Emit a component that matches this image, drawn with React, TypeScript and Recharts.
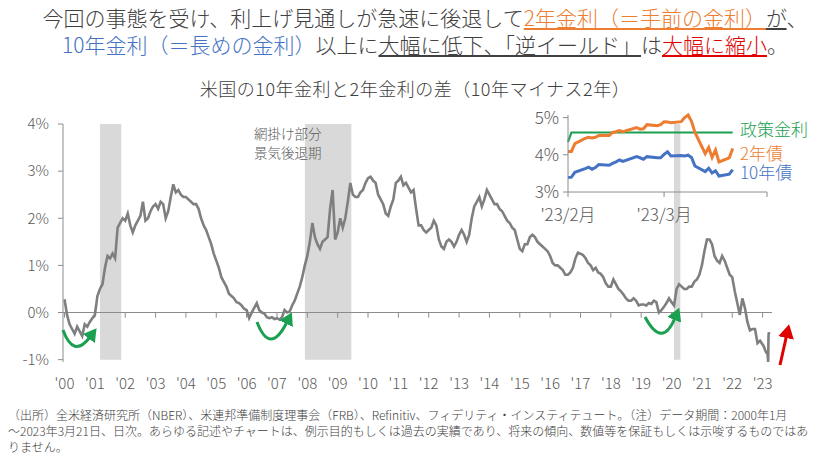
import React from 'react';
import { LineChart, Line, XAxis, YAxis, ReferenceArea, ReferenceLine } from 'recharts';

const FONT = '"Noto Sans CJK JP", "Noto Sans", sans-serif';
const GRAY_TEXT = '#595959';
const AXIS = '#8c8c8c';
const ORANGE = '#ED7D31';
const BLUE = '#4472C4';
const GREEN = '#1AA050';
const RED = '#E00000';

// ---- Main chart: 10Y - 2Y spread (%), monthly readings, Jan 2000 .. Dec 2022
const startYear = 2000;
const spreadMonthly: number[] = [
  0.28, -0.05, -0.25, -0.35, -0.45, -0.3, -0.4, -0.5, -0.25, -0.3, -0.2, -0.12, // 2000
  -0.05, 0.35, 0.5, 0.6, 0.95, 1.2, 1.15, 1.25, 1.15, 1.8, 1.9, 2.0, // 2001
  1.95, 2.1, 1.85, 1.7, 1.85, 1.95, 2.05, 2.35, 1.95, 2.0, 2.15, 2.25, // 2002
  2.3, 2.2, 2.35, 2.3, 2.0, 2.15, 2.45, 2.72, 2.55, 2.6, 2.5, 2.45, // 2003
  2.45, 2.4, 2.35, 2.3, 2.3, 2.2, 2.0, 1.85, 1.75, 1.6, 1.45, 1.25, // 2004
  1.1, 0.95, 0.75, 0.65, 0.55, 0.4, 0.35, 0.3, 0.22, 0.2, 0.15, 0.08, // 2005
  0.05, -0.12, 0.0, 0.1, 0.2, 0.05, 0.0, -0.02, -0.1, -0.12, -0.1, -0.14, // 2006
  -0.12, -0.15, -0.1, 0.05, 0.0, 0.02, 0.15, 0.25, 0.4, 0.55, 0.75, 1.0, // 2007
  1.2, 1.5, 1.9, 1.6, 1.45, 1.35, 1.5, 1.55, 1.6, 2.2, 2.6, 1.55, // 2008
  1.7, 2.0, 1.8, 2.0, 2.35, 2.75, 2.5, 2.45, 2.45, 2.55, 2.6, 2.75, // 2009
  2.85, 2.88, 2.8, 2.75, 2.5, 2.4, 2.3, 2.1, 2.05, 2.25, 2.4, 2.75, // 2010
  2.8, 2.88, 2.7, 2.75, 2.65, 2.55, 2.6, 2.2, 1.85, 1.85, 1.75, 1.7, // 2011
  1.75, 1.8, 1.95, 1.85, 1.55, 1.4, 1.35, 1.5, 1.55, 1.5, 1.4, 1.5, // 2012
  1.65, 1.75, 1.65, 1.5, 1.65, 2.0, 2.25, 2.35, 2.45, 2.25, 2.4, 2.6, // 2013
  2.5, 2.4, 2.3, 2.3, 2.2, 2.15, 2.05, 1.95, 1.9, 1.8, 1.75, 1.55, // 2014
  1.35, 1.3, 1.45, 1.45, 1.6, 1.65, 1.6, 1.5, 1.45, 1.4, 1.35, 1.3, // 2015
  1.2, 1.05, 1.0, 1.0, 0.95, 0.9, 0.8, 0.8, 0.85, 0.95, 1.15, 1.27, // 2016
  1.25, 1.22, 1.15, 1.05, 1.0, 0.9, 0.95, 0.85, 0.82, 0.75, 0.62, 0.55, // 2017
  0.55, 0.7, 0.6, 0.5, 0.45, 0.38, 0.3, 0.25, 0.25, 0.3, 0.25, 0.15, // 2018
  0.17, 0.17, 0.15, 0.2, 0.18, 0.25, 0.22, 0.0, 0.05, 0.12, 0.2, 0.3, // 2019
  0.22, 0.15, 0.5, 0.6, 0.55, 0.5, 0.5, 0.55, 0.55, 0.65, 0.7, 0.8, // 2020
  1.0, 1.3, 1.55, 1.55, 1.45, 1.2, 1.1, 1.05, 1.2, 1.1, 0.95, 0.8, // 2021
  0.75, 0.45, 0.2, -0.05, 0.3, 0.1, -0.2, -0.38, -0.35, -0.35, -0.65, -0.6, // 2022
];
// 2023 readings (year fraction, value)
const tail2023Dates = [2023.0, 2023.04, 2023.085, 2023.12, 2023.164, 2023.184, 2023.195, 2023.205, 2023.216];
const tail2023Values = [-0.68, -0.72, -0.8, -0.85, -0.88, -1.05, -0.5, -0.42, -0.46];

const yearTicks = Array.from({ length: 24 }, (_, i) => 2000 + i);
const yTicks = [-1, 0, 1, 2, 3, 4];
const recessions: [number, number][] = [
  [2001.17, 2001.87],
  [2007.92, 2009.45],
  [2020.08, 2020.29],
];

const mainData = [
  ...spreadMonthly.map((v, i) => ({ x: startYear + i / 12, v })),
  ...tail2023Dates.map((x, i) => ({ x, v: tail2023Values[i] })),
];

// ---- Inset: Feb 1 2023 .. Mar 21 2023 (business days, day offset from Feb 1)
const insetDays = [0, 1, 2, 5, 6, 7, 8, 9, 12, 13, 14, 15, 16, 20, 21, 22, 23, 26, 27,
  28, 29, 30, 33, 34, 35, 36, 37, 40, 41, 42, 43, 44, 47, 48];
const twoYear = [4.09, 4.09, 4.3, 4.44, 4.47, 4.45, 4.47, 4.52, 4.52, 4.6, 4.62, 4.65, 4.62, 4.73, 4.69, 4.7, 4.81, 4.78, 4.81,
  4.89, 4.88, 4.86, 4.89, 5.0, 5.07, 4.9, 4.6, 4.03, 4.2, 3.93, 4.13, 3.81, 3.92, 4.17];
const tenYear = [3.39, 3.4, 3.53, 3.63, 3.67, 3.61, 3.66, 3.74, 3.72, 3.77, 3.81, 3.86, 3.82, 3.95, 3.92, 3.88, 3.95, 3.92, 3.92,
  4.01, 4.08, 3.97, 3.98, 3.97, 3.99, 3.93, 3.7, 3.55, 3.64, 3.51, 3.57, 3.43, 3.48, 3.6];
const policyRate = [4.35, 4.6, 4.6, 4.6, 4.6, 4.6, 4.6, 4.6, 4.6, 4.6, 4.6, 4.6, 4.6, 4.6, 4.6, 4.6, 4.6, 4.6, 4.6,
  4.6, 4.6, 4.6, 4.6, 4.6, 4.6, 4.6, 4.6, 4.6, 4.6, 4.6, 4.6, 4.6, 4.6, 4.6];
const insetTicks = [0, 28, 58];
const insetTickLabels: Record<number, string> = { 0: "'23/2月", 28: "'23/3月", 58: '' };
const insetData = insetDays.map((d, i) => ({ d, two: twoYear[i], ten: tenYear[i], pol: policyRate[i] }));

const mainTick = { fill: GRAY_TEXT, fontSize: 15, fontFamily: FONT, fontWeight: 300 };
const insetTick = { fill: GRAY_TEXT, fontSize: 17, fontFamily: FONT, fontWeight: 300 };

export default function App() {
  return (
    <div style={{ position: 'absolute', left: 0, top: 0, width: 825, height: 464, background: '#fff', fontFamily: FONT, fontWeight: 300, overflow: 'hidden' }}>
      {/* Headline */}
      <div style={{ position: 'absolute', left: 0, top: 4, width: 825, paddingLeft: 25, boxSizing: 'border-box', textAlign: 'center', fontSize: 21, lineHeight: '27px', color: '#404040', whiteSpace: 'nowrap' }}>
        <div>
          <span>今回の事態を受け、利上げ見通しが急速に後退して</span>
          <span style={{ color: ORANGE, textDecoration: 'underline' }}>2年金利（＝手前の金利）</span>
          <span style={{ textDecoration: 'underline' }}>が</span>
          <span>、</span>
        </div>
        <div>
          <span style={{ color: BLUE }}>10年金利（＝長めの金利）</span>
          <span>以上に</span>
          <span style={{ textDecoration: 'underline' }}>大幅に低下、「逆イールド」</span>
          <span>は</span>
          <span style={{ color: RED, textDecoration: 'underline' }}>大幅に縮小</span>
          <span>。</span>
        </div>
      </div>

      {/* Chart title */}
      <div style={{ position: 'absolute', left: 0, top: 77, width: 825, paddingLeft: 5, boxSizing: 'border-box', textAlign: 'center', fontSize: 18, letterSpacing: 0.5, lineHeight: '22px', color: '#404040', whiteSpace: 'nowrap' }}>
        米国の10年金利と2年金利の差（10年マイナス2年）
      </div>

      {/* Main chart */}
      <div style={{ position: 'absolute', left: 0, top: 0 }}>
        <LineChart width={825} height={464} data={mainData} margin={{ top: 124, right: 53, bottom: 72, left: 13 }}>
          {recessions.map(([a, b], i) => (
            <ReferenceArea key={'r' + i} x1={a} x2={b} y1={-1} y2={4} fill="#d9d9d9" fillOpacity={1} stroke="none" ifOverflow="hidden" />
          ))}
          <XAxis
            type="number"
            dataKey="x"
            domain={[1999.95, 2023.31]}
            ticks={yearTicks}
            interval={0}
            allowDataOverflow
            axisLine={false}
            tickLine={false}
            tickMargin={10}
            height={30}
            tick={mainTick}
            tickFormatter={(v: number) => "'" + String(v).slice(2)}
          />
          <YAxis
            type="number"
            domain={[-1, 4]}
            ticks={yTicks}
            interval={0}
            width={50}
            axisLine={{ stroke: AXIS }}
            tickLine={{ stroke: AXIS }}
            tickSize={5}
            tickMargin={9}
            tick={mainTick}
            tickFormatter={(v: number) => `${v}%`}
          />
          <ReferenceLine y={0} stroke={AXIS} strokeWidth={1.2} />
          {yearTicks.map((yr) => (
            <ReferenceLine key={'t' + yr} segment={[{ x: yr, y: 0 }, { x: yr, y: -0.11 }]} stroke={AXIS} strokeWidth={1} />
          ))}
          <Line type="linear" dataKey="v" stroke="#7f7f7f" strokeWidth={2.6} dot={false} isAnimationActive={false} />
        </LineChart>
      </div>

      {/* Recession note */}
      <div style={{ position: 'absolute', left: 254, top: 124, fontSize: 13.5, lineHeight: '19px', color: GRAY_TEXT, whiteSpace: 'nowrap' }}>
        網掛け部分<br />景気後退期
      </div>

      {/* Inset chart */}
      <div style={{ position: 'absolute', left: 500, top: 100 }}>
        <LineChart width={300} height={130} data={insetData} margin={{ top: 15, right: 33, bottom: 8, left: 28 }}>
          <XAxis
            type="number"
            dataKey="d"
            domain={[0, 58]}
            ticks={insetTicks}
            interval={0}
            axisLine={{ stroke: AXIS }}
            tickLine={{ stroke: AXIS }}
            tickSize={5}
            tickMargin={12}
            height={30}
            tick={insetTick}
            tickFormatter={(v: number) => insetTickLabels[v] ?? ''}
          />
          <YAxis
            type="number"
            domain={[3, 5]}
            ticks={[3, 4, 5]}
            interval={0}
            width={40}
            axisLine={{ stroke: AXIS }}
            tickLine={{ stroke: AXIS }}
            tickSize={5}
            tickMargin={4}
            tick={insetTick}
            tickFormatter={(v: number) => `${v}%`}
          />
          <Line type="linear" dataKey="pol" stroke={GREEN} strokeWidth={2.2} dot={false} isAnimationActive={false} />
          <Line type="linear" dataKey="two" stroke={ORANGE} strokeWidth={3} dot={false} isAnimationActive={false} />
          <Line type="linear" dataKey="ten" stroke={BLUE} strokeWidth={3} dot={false} isAnimationActive={false} />
        </LineChart>
      </div>
      <div style={{ position: 'absolute', left: 740, top: 119, fontSize: 17, lineHeight: '19px', whiteSpace: 'nowrap', color: GREEN }}>政策金利</div>
      <div style={{ position: 'absolute', left: 740, top: 142.5, fontSize: 17, lineHeight: '19px', whiteSpace: 'nowrap', color: ORANGE }}>2年債</div>
      <div style={{ position: 'absolute', left: 740, top: 161.5, fontSize: 17, lineHeight: '19px', whiteSpace: 'nowrap', color: BLUE }}>10年債</div>

      {/* Annotation arrows */}
      <svg width={825} height={464} style={{ position: 'absolute', left: 0, top: 0, pointerEvents: 'none' }}>
        <defs>
          <marker id="gh" markerUnits="userSpaceOnUse" markerWidth="15" markerHeight="15" refX="2" refY="7.5" orient="auto">
            <path d="M0,0 L13,7.5 L0,15 z" fill={GREEN} />
          </marker>
          <marker id="rh" markerUnits="userSpaceOnUse" markerWidth="16" markerHeight="16" refX="2" refY="8" orient="auto">
            <path d="M0,0 L14,8 L0,16 z" fill={RED} />
          </marker>
        </defs>
        <path d="M63,330 Q73.5,359 90,337" stroke={GREEN} strokeWidth={3} fill="none" markerEnd="url(#gh)" />
        <path d="M257,322 Q270,356 287,322" stroke={GREEN} strokeWidth={3} fill="none" markerEnd="url(#gh)" />
        <path d="M645,317 Q662,349 675,318" stroke={GREEN} strokeWidth={3} fill="none" markerEnd="url(#gh)" />
        <path d="M780,365 L786.5,336" stroke={RED} strokeWidth={3} fill="none" markerEnd="url(#rh)" />
      </svg>

      {/* Footnote */}
      <div style={{ position: 'absolute', left: 8, top: 407, fontSize: 12, lineHeight: '16px', color: '#404040', whiteSpace: 'nowrap' }}>
        <div>（出所）全米経済研究所（NBER）、米連邦準備制度理事会（FRB）、Refinitiv、フィデリティ・インスティテュート。（注）データ期間：2000年1月</div>
        <div>～2023年3月21日、日次。あらゆる記述やチャートは、例示目的もしくは過去の実績であり、将来の傾向、数値等を保証もしくは示唆するものではあ</div>
        <div>りません。</div>
      </div>
    </div>
  );
}
